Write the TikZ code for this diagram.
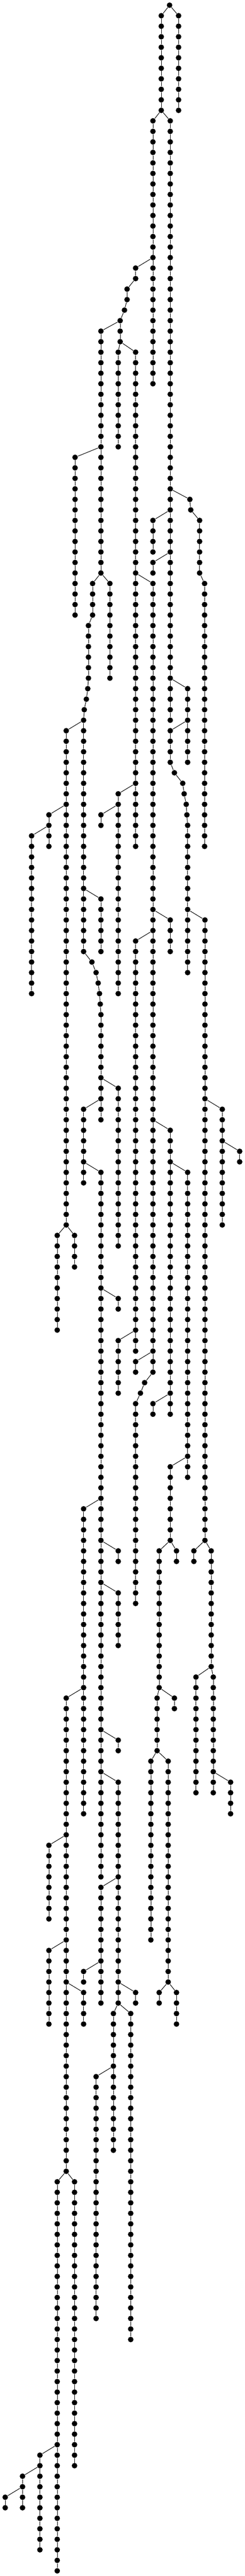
\documentclass[tikz,border=0pt]{standalone}
\usepackage{tikz}

% one vertical run of dots: name, x, first level, last level, parent node
\newcommand{\chain}[5]{%
  \foreach \lv [evaluate=\lv as \prv using int(\lv-1)] in {#3,...,#4}{
    \node[dot] (#1-\lv) at (#2,-\lv) {};
    \ifnum\lv>#3 \draw (#1-\prv) -- (#1-\lv); \fi
  }
  \draw (#5) -- (#1-#3);
}

\begin{document}
\begin{tikzpicture}
[x=0.3pt,y=6.08pt,line width=0.3pt]

  \tikzstyle{dot}=[circle,fill=black,inner sep=0pt,minimum size=3.2pt]

  \useasboundingbox (0,0.4934) rectangle (471,-244.4934);

  \node[dot] (r-0) at (326,0) {};
  \chain{c1}{343.3}{1}{10}{r-0}
  \chain{c2}{310}{1}{10}{r-0}
  \chain{c3}{294}{11}{36}{c2-10}
  \chain{c4}{327.3}{11}{68}{c2-10}
  \chain{c5}{260.7}{25}{26}{c3-24}
  \chain{c5}{244.3}{27}{28}{c5-26}
  \chain{c5}{239.3}{29}{29}{c5-28}
  \chain{c5}{231}{30}{30}{c5-29}
  \chain{c6}{194}{31}{54}{c5-30}
  \chain{c7}{231}{31}{32}{c5-30}
  \chain{c8}{227.3}{33}{42}{c7-32}
  \chain{c9}{260.7}{33}{80}{c7-32}
  \chain{c10}{144.3}{43}{58}{c6-42}
  \chain{c11}{211.3}{55}{64}{c6-54}
  \chain{c12}{178}{55}{58}{c6-54}
  \chain{c12}{170}{59}{64}{c12-58}
  \chain{c12}{168.7}{65}{65}{c12-64}
  \chain{c12}{166}{66}{66}{c12-65}
  \chain{c12}{162}{67}{67}{c12-66}
  \chain{c12}{160.7}{68}{68}{c12-67}
  \chain{c13}{127.3}{69}{116}{c12-68}
  \chain{c14}{160.7}{69}{90}{c12-68}
  \chain{c14}{176.7}{91}{91}{c14-90}
  \chain{c14}{184.7}{92}{92}{c14-91}
  \chain{c14}{188.7}{93}{93}{c14-92}
  \chain{c14}{191.3}{94}{94}{c14-93}
  \chain{c14}{192.7}{95}{95}{c14-94}
  \chain{c14}{194}{96}{106}{c14-95}
  \chain{c15}{194}{85}{90}{c14-84}
  \chain{c16}{94}{77}{80}{c13-76}
  \chain{c17}{60.7}{79}{94}{c16-78}
  \chain{c18}{294}{55}{130}{c9-54}
  \chain{c18}{278}{131}{131}{c18-130}
  \chain{c18}{270}{132}{132}{c18-131}
  \chain{c18}{260.7}{133}{152}{c18-132}
  \chain{c19}{227.3}{75}{94}{c9-74}
  \chain{c20}{194}{77}{78}{c19-76}
  \chain{c21}{294}{49}{52}{c4-48}
  \chain{c22}{294}{53}{54}{c4-52}
  \chain{c23}{360.7}{65}{72}{c4-64}
  \chain{c24}{327.3}{69}{72}{c23-68}
  \chain{c24}{335.3}{73}{73}{c24-72}
  \chain{c24}{351.3}{74}{74}{c24-73}
  \chain{c24}{354}{75}{75}{c24-74}
  \chain{c24}{358}{76}{76}{c24-75}
  \chain{c24}{359.3}{77}{77}{c24-76}
  \chain{c24}{360.7}{78}{92}{c24-77}
  \chain{c25}{394}{87}{146}{c24-86}
  \chain{c26}{365}{47}{47}{c4-46}
  \chain{c26}{366.7}{48}{48}{c26-47}
  \chain{c26}{383.7}{49}{54}{c26-48}
  \chain{c26}{393.3}{55}{80}{c26-54}
  \chain{c27}{110}{117}{126}{c13-116}
  \chain{c28}{143.3}{117}{120}{c13-116}
  \chain{c29}{227.3}{103}{118}{c14-102}
  \chain{c30}{160.7}{105}{112}{c14-104}
  \chain{c31}{194}{111}{178}{c30-110}
  \chain{c32}{227.3}{123}{124}{c31-122}
  \chain{c33}{160.7}{143}{172}{c31-142}
  \chain{c34}{227.3}{147}{148}{c31-146}
  \chain{c35}{227.3}{151}{156}{c31-150}
  \chain{c36}{227.3}{165}{166}{c31-164}
  \chain{c37}{227.3}{169}{190}{c31-168}
  \chain{c38}{127.3}{161}{206}{c33-160}
  \chain{c39}{194}{179}{190}{c37-178}
  \chain{c40}{260.7}{189}{190}{c37-188}
  \chain{c41}{218}{191}{204}{c37-190}
  \chain{c42}{251.3}{191}{222}{c37-190}
  \chain{c43}{94}{175}{182}{c38-174}
  \chain{c44}{94}{185}{192}{c38-184}
  \chain{c45}{160.7}{189}{192}{c38-188}
  \chain{c46}{110}{207}{244}{c38-206}
  \chain{c47}{143.3}{207}{234}{c38-206}
  \chain{c48}{160.7}{187}{188}{c39-186}
  \chain{c49}{184.7}{197}{220}{c41-196}
  \chain{c50}{76.7}{233}{242}{c46-232}
  \chain{c51}{43.3}{235}{238}{c50-234}
  \chain{c52}{10}{237}{238}{c51-236}
  \chain{c53}{327.3}{87}{90}{c18-86}
  \chain{c54}{260.7}{89}{128}{c18-88}
  \chain{c55}{227.3}{127}{132}{c54-126}
  \chain{c56}{327.3}{107}{134}{c18-106}
  \chain{c57}{360.7}{111}{140}{c56-110}
  \chain{c58}{294}{133}{134}{c56-132}
  \chain{c59}{260.7}{129}{130}{c18-128}
  \chain{c60}{327.3}{139}{146}{c57-138}
  \chain{c61}{306}{147}{160}{c60-146}
  \chain{c62}{339.3}{147}{148}{c60-146}
  \chain{c63}{302}{161}{166}{c61-160}
  \chain{c64}{335.3}{161}{162}{c61-160}
  \chain{c65}{290}{167}{184}{c63-166}
  \chain{c66}{323.3}{167}{188}{c63-166}
  \chain{c67}{306}{189}{190}{c66-188}
  \chain{c68}{339.3}{189}{192}{c66-188}
  \chain{c69}{427.3}{105}{116}{c25-104}
  \chain{c70}{460.7}{109}{110}{c69-108}
  \chain{c71}{372.7}{147}{148}{c25-146}
  \chain{c72}{406}{147}{158}{c25-146}
  \chain{c73}{376.7}{159}{170}{c72-158}
  \chain{c74}{410}{159}{170}{c72-158}
  \chain{c75}{443.3}{169}{172}{c74-168}
\end{tikzpicture}
\end{document}
